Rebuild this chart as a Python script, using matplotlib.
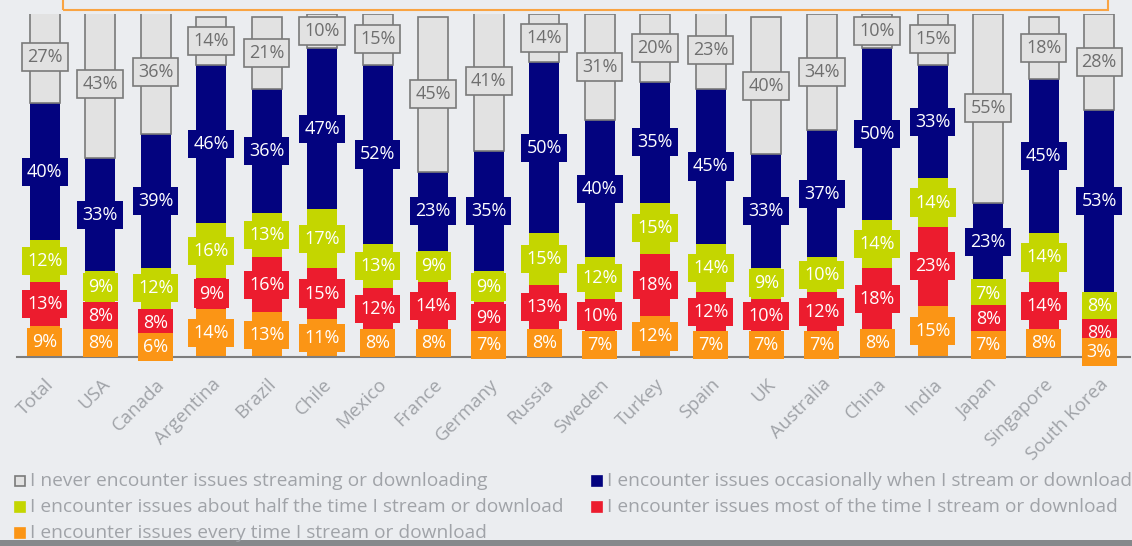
import matplotlib.pyplot as plt
import numpy as np
from matplotlib.patches import Rectangle

# --- Data ---------------------------------------------------------------------
countries = ["Total", "USA", "Canada", "Argentina", "Brazil", "Chile", "Mexico",
             "France", "Germany", "Russia", "Sweden", "Turkey", "Spain", "UK",
             "Australia", "China", "India", "Japan", "Singapore", "South Korea"]

every_time = [9, 8, 6, 14, 13, 11, 8, 8, 7, 8, 7, 12, 7, 7, 7, 8, 15, 7, 8, 3]
most_time = [13, 8, 8, 9, 16, 15, 12, 14, 9, 13, 10, 18, 12, 10, 12, 18, 23, 8, 14, 8]
half_time = [12, 9, 12, 16, 13, 17, 13, 9, 9, 15, 12, 15, 14, 9, 10, 14, 14, 7, 14, 8]
occasionally = [40, 33, 39, 46, 36, 47, 52, 23, 35, 50, 40, 35, 45, 33, 37, 50, 33, 23, 45, 53]
never = [27, 43, 36, 14, 21, 10, 15, 45, 41, 14, 31, 20, 23, 40, 34, 10, 15, 55, 18, 28]

legend_labels = [
    "I never encounter issues streaming or downloading",
    "I encounter issues about half the time I stream or download",
    "I encounter issues every time I stream or download",
    "I encounter issues occasionally when I stream or download",
    "I encounter issues most of the time I stream or download",
]

# --- Styling ------------------------------------------------------------------
BG = "#ebedf0"
GRAY_FILL, GRAY_EDGE = "#e2e2e2", "#7a7a7a"
NAVY, LIME, RED, ORANGE = "#03037f", "#c4d600", "#ec1c2e", "#fb9515"
TEXT_GRAY = "#a0a3a8"

plt.rcParams["font.family"] = ["Open Sans", "DejaVu Sans"]

fig = plt.figure(figsize=(11.32, 5.46), dpi=100, facecolor=BG)
ax = fig.add_axes([0.015, 0.346, 0.983, 0.629])
ax.set_facecolor(BG)

x = np.arange(len(countries))
width = 0.54

# bottom-to-top stacking order
segments = [
    (every_time, ORANGE, "white", None),
    (most_time, RED, "white", None),
    (half_time, LIME, "white", None),
    (occasionally, NAVY, "white", None),
    (never, GRAY_FILL, "#6e6e6e", GRAY_EDGE),
]

bottom = np.zeros(len(countries))
for level, (values, color, txt_color, edge) in enumerate(segments):
    vals = np.array(values, dtype=float)
    ax.bar(x, vals, width, bottom=bottom, color=color,
           edgecolor=edge if edge else color, linewidth=1.2 if edge else 0,
           zorder=2)
    for xi, b, v in zip(x, bottom, vals):
        # lower labels sit on top so small bottom segments stay readable
        ax.text(xi, b + v / 2, f"{int(v)}%", ha="center", va="center",
                fontsize=13, color=txt_color, zorder=10 - level, clip_on=False,
                bbox=dict(boxstyle="square,pad=0.28", facecolor=color,
                          edgecolor=edge if edge else color,
                          linewidth=1.2 if edge else 0))
    bottom += vals

ax.set_xlim(-0.5, 19.55)
ax.set_ylim(0, 100)
for side in ["top", "right", "left"]:
    ax.spines[side].set_visible(False)
ax.spines["bottom"].set_color("#7d7d7d")
ax.spines["bottom"].set_linewidth(1.5)
ax.spines["bottom"].set_zorder(3)
ax.set_yticks([])
ax.set_xticks(x)
ax.set_xticklabels(countries, rotation=45, ha="right", rotation_mode="anchor",
                   fontsize=13.5, color=TEXT_GRAY)
ax.tick_params(axis="x", length=0, pad=13)

# --- Legend (two columns, drawn in figure pixels) -------------------------------
W, H = 1132, 546
legend_colors = [GRAY_FILL, LIME, ORANGE, NAVY, RED]
legend_pos = [(15, 481), (15, 507), (15, 533), (592, 481), (592, 507)]
for (px, py), color, label in zip(legend_pos, legend_colors, legend_labels):
    edge = GRAY_EDGE if color == GRAY_FILL else color
    fig.patches.append(Rectangle((px / W, 1 - (py + 5) / H), 10 / W, 10 / H,
                                 transform=fig.transFigure, facecolor=color,
                                 edgecolor=edge, linewidth=1.2))
    fig.text((px + 15) / W, 1 - py / H, label, ha="left", va="center",
             fontsize=13.8, color=TEXT_GRAY)

# header box peeking in at the top
fig.patches.append(Rectangle((63 / W, 1 - 10 / H), (1108 - 63) / W, 20 / H,
                             transform=fig.transFigure, facecolor="none",
                             edgecolor="#f9a443", linewidth=1.5))
# darker strip along the bottom edge
fig.patches.append(Rectangle((0, 0), 1, 6 / H, transform=fig.transFigure,
                             facecolor="#86888b", edgecolor="none"))

fig.savefig("out.png", dpi=100, facecolor=BG)
